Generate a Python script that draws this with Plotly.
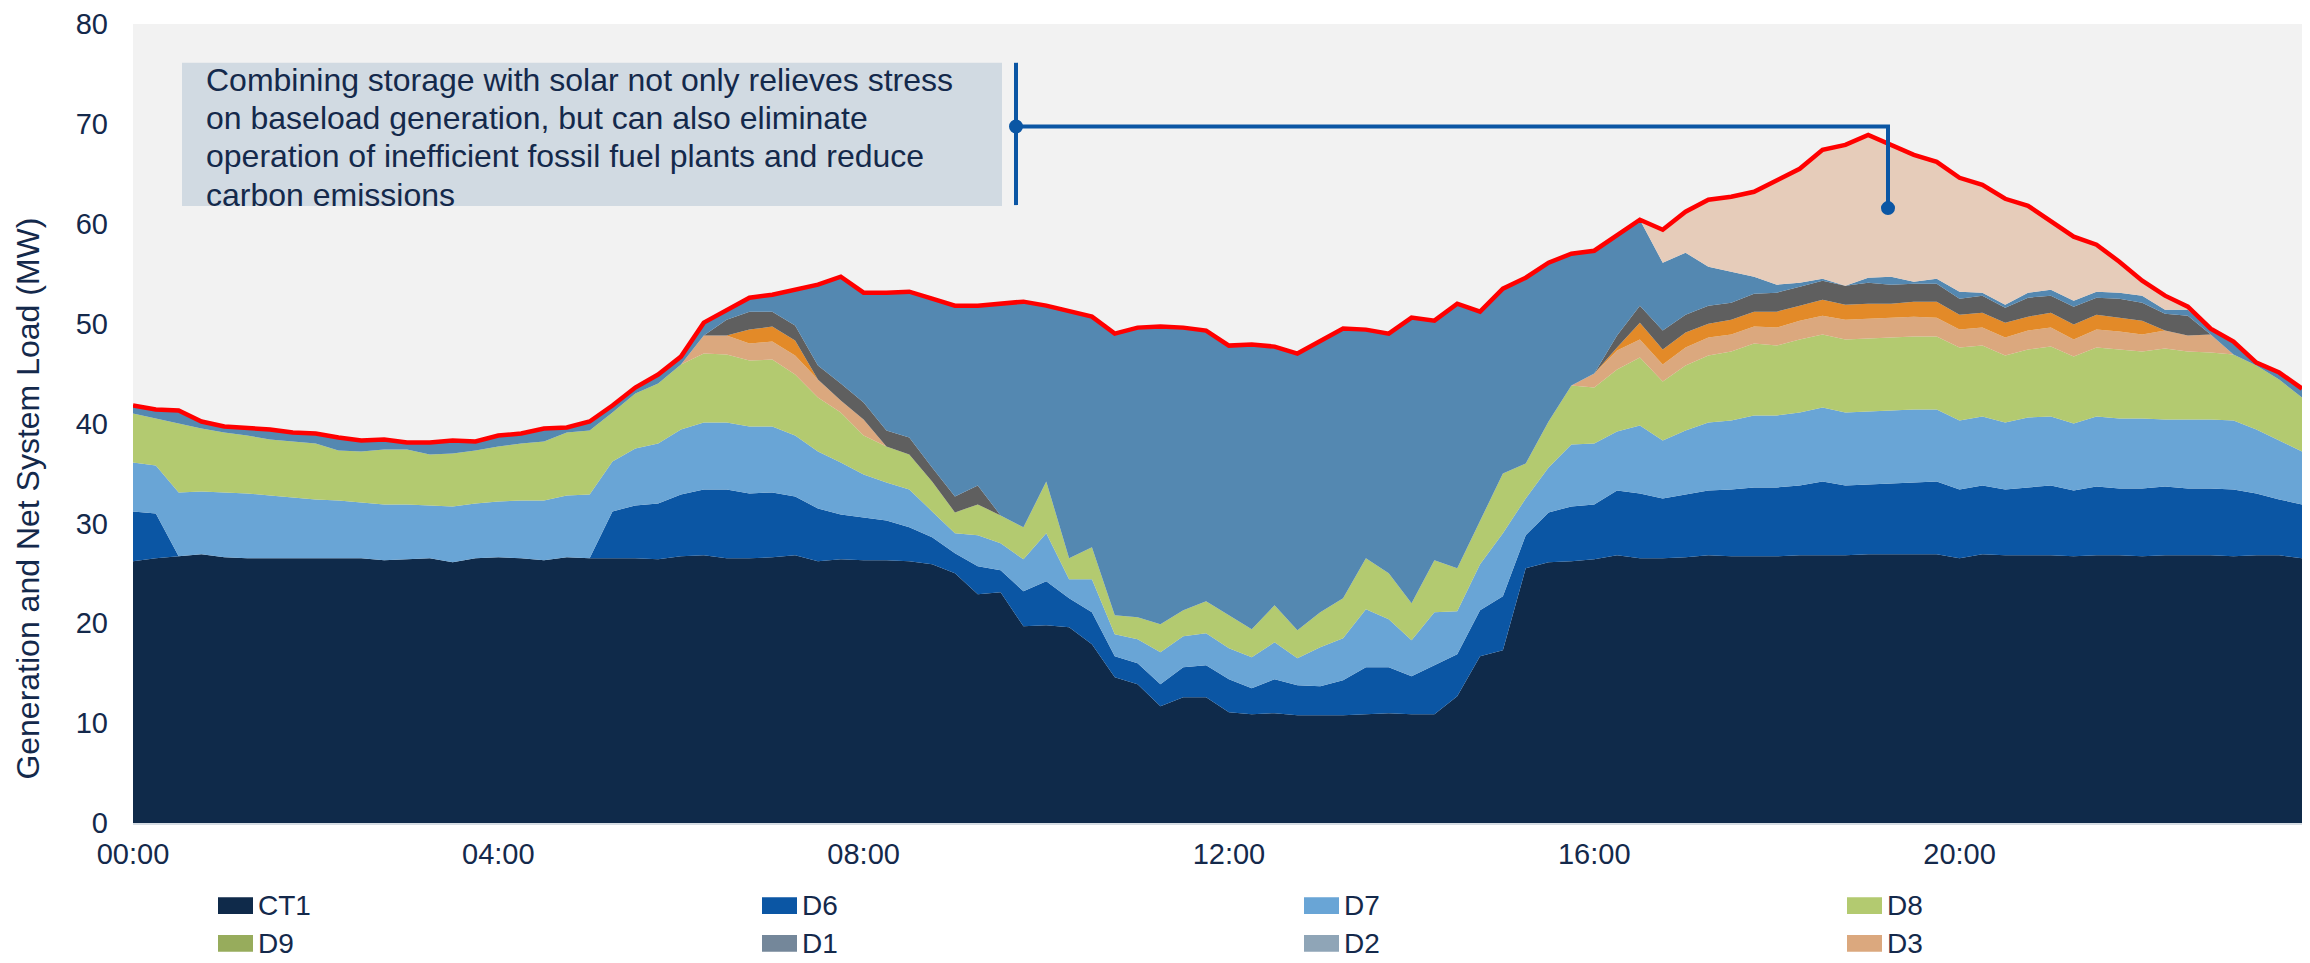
import pandas as pd
import plotly.graph_objects as go

# 15-minute intervals over one day
TIMES = pd.date_range("2024-01-01 00:00", periods=96, freq="15min")

# generation by unit (MW), stacked bottom -> top
CT1 = [26.2, 26.5, 26.7, 26.9, 26.6, 26.5, 26.5, 26.5, 26.5, 26.5, 26.5, 26.3, 26.4, 26.5, 26.1, 26.5,
       26.6, 26.5, 26.3, 26.6, 26.5, 26.5, 26.5, 26.4, 26.7, 26.8, 26.5, 26.5, 26.6, 26.8, 26.2, 26.4,
       26.3, 26.3, 26.2, 25.9, 25.0, 22.9, 23.1, 19.7, 19.8, 19.6, 17.9, 14.6, 13.9, 11.7, 12.6, 12.6,
       11.1, 10.9, 11.0, 10.8, 10.8, 10.8, 10.9, 11.0, 10.9, 10.9, 12.7, 16.7, 17.3, 25.5, 26.1, 26.2,
       26.4, 26.8, 26.5, 26.5, 26.6, 26.8, 26.7, 26.7, 26.7, 26.8, 26.8, 26.8, 26.9, 26.9, 26.9, 26.9,
       26.5, 26.9, 26.8, 26.8, 26.8, 26.7, 26.8, 26.8, 26.7, 26.8, 26.8, 26.8, 26.7, 26.8, 26.8, 26.5]

D6 = [5.0, 4.5, 0, 0, 0, 0, 0, 0, 0, 0, 0, 0, 0, 0, 0, 0,
      0, 0, 0, 0, 0, 4.7, 5.3, 5.6, 6.2, 6.6, 6.9, 6.5, 6.5, 5.9, 5.3, 4.5,
      4.3, 4.0, 3.4, 2.7, 2.0, 2.8, 2.2, 3.5, 4.4, 2.9, 3.2, 2.1, 2.1, 2.2, 3.0, 3.2,
      3.3, 2.6, 3.4, 3.0, 2.9, 3.5, 4.7, 4.6, 3.8, 4.9, 4.2, 4.6, 5.4, 3.3, 5.0, 5.5,
      5.5, 6.5, 6.5, 6.0, 6.3, 6.5, 6.7, 6.9, 6.9, 7.0, 7.4, 7.0, 7.0, 7.1, 7.2, 7.3,
      6.9, 6.9, 6.6, 6.8, 7.0, 6.6, 6.9, 6.7, 6.8, 6.9, 6.7, 6.7, 6.7, 6.2, 5.6, 5.4]

D7 = [4.9, 4.8, 6.4, 6.3, 6.5, 6.5, 6.3, 6.1, 5.9, 5.8, 5.6, 5.6, 5.5, 5.3, 5.6, 5.5,
      5.6, 5.8, 6.0, 6.2, 6.4, 5.0, 5.7, 6.0, 6.5, 6.7, 6.7, 6.7, 6.6, 6.1, 5.7, 5.2,
      4.3, 3.8, 3.8, 2.6, 2.0, 3.1, 2.7, 3.2, 4.8, 1.9, 3.3, 2.2, 2.4, 3.2, 3.1, 3.2,
      3.1, 3.1, 3.7, 2.7, 3.9, 4.2, 5.8, 4.8, 3.6, 5.3, 4.3, 4.6, 6.3, 3.7, 4.5, 6.2,
      6.1, 5.9, 6.8, 5.8, 6.4, 6.8, 6.9, 7.2, 7.2, 7.3, 7.4, 7.3, 7.3, 7.3, 7.3, 7.2,
      6.9, 6.9, 6.7, 7.0, 6.9, 6.7, 7.0, 7.0, 7.0, 6.7, 6.9, 6.9, 6.9, 6.4, 5.9, 5.3]

D8 = [4.9, 4.7, 6.9, 6.3, 6.0, 5.8, 5.6, 5.6, 5.6, 5.0, 5.1, 5.5, 5.5, 5.1, 5.3, 5.3,
      5.5, 5.7, 5.9, 6.3, 6.4, 4.9, 5.5, 6.0, 6.5, 6.9, 6.8, 6.6, 6.7, 6.1, 5.4, 5.0,
      3.9, 3.6, 3.5, 3.0, 2.1, 3.1, 2.8, 3.2, 5.2, 2.1, 3.2, 1.9, 2.2, 2.8, 2.6, 3.2,
      3.3, 2.8, 3.7, 2.8, 3.5, 4.0, 5.1, 4.6, 3.7, 5.2, 4.3, 4.3, 6.0, 3.5, 4.6, 5.9,
      5.6, 6.2, 6.8, 5.9, 6.5, 6.7, 6.9, 7.2, 7.0, 7.3, 7.3, 7.3, 7.3, 7.3, 7.3, 7.3,
      7.3, 7.1, 6.7, 6.8, 7.0, 6.7, 6.9, 6.9, 6.7, 7.1, 6.8, 6.7, 6.6, 6.4, 6.1, 5.4]

D3 = [0, 0, 0, 0, 0, 0, 0, 0, 0, 0, 0, 0, 0, 0, 0, 0,
      0, 0, 0, 0, 0, 0, 0, 0, 0, 1.8, 1.9, 1.7, 1.8, 1.9, 1.8, 1.2,
      1.6, 0, 0, 0, 0, 0, 0, 0, 0, 0, 0, 0, 0, 0, 0, 0,
      0, 0, 0, 0, 0, 0, 0, 0, 0, 0, 0, 0, 0, 0, 0, 0,
      1.4, 1.9, 1.8, 1.7, 1.8, 1.8, 1.7, 1.7, 1.8, 1.9, 1.9, 2.0, 2.0, 2.0, 2.0, 1.9,
      1.8, 1.8, 1.8, 1.9, 1.9, 1.7, 1.8, 1.8, 1.7, 1.8, 1.6, 1.8, 0, 0, 0, 0]

D4 = [0, 0, 0, 0, 0, 0, 0, 0, 0, 0, 0, 0, 0, 0, 0, 0,
      0, 0, 0, 0, 0, 0, 0, 0, 0, 0, 0, 1.4, 1.5, 1.5, 0, 0,
      0, 0, 0, 0, 0, 0, 0, 0, 0, 0, 0, 0, 0, 0, 0, 0,
      0, 0, 0, 0, 0, 0, 0, 0, 0, 0, 0, 0, 0, 0, 0, 0,
      0, 0.3, 1.7, 1.5, 1.5, 1.4, 1.5, 1.5, 1.6, 1.5, 1.6, 1.5, 1.5, 1.4, 1.5, 1.6,
      1.5, 1.5, 1.5, 1.4, 1.5, 1.5, 1.5, 1.4, 1.4, 0, 0, 0, 0, 0, 0, 0]

D5 = [0, 0, 0, 0, 0, 0, 0, 0, 0, 0, 0, 0, 0, 0, 0, 0,
      0, 0, 0, 0, 0, 0, 0, 0, 0, 0, 1.6, 1.8, 1.5, 1.5, 1.4, 1.7,
      1.7, 1.6, 1.7, 1.4, 1.6, 1.9, 0, 0, 0, 0, 0, 0, 0, 0, 0, 0,
      0, 0, 0, 0, 0, 0, 0, 0, 0, 0, 0, 0, 0, 0, 0, 0,
      0, 1.2, 1.7, 1.9, 1.8, 1.8, 1.7, 1.8, 1.9, 1.9, 1.9, 1.9, 2.1, 1.9, 1.8, 1.8,
      1.6, 1.7, 1.5, 1.9, 1.7, 1.8, 1.7, 1.9, 1.8, 1.7, 2.0, 0, 0, 0, 0, 0]

SOLAR = [0.8, 0.9, 1.3, 0.7, 0.6, 0.8, 1.0, 0.9, 1.0, 1.3, 1.1, 1.0, 0.7, 1.2, 1.3, 0.9,
         1.1, 1.0, 1.3, 0.5, 0.9, 0.7, 0.6, 0.9, 0.8, 1.3, 0.9, 1.4, 1.7, 3.6, 8.1, 10.7,
         11.0, 13.8, 14.6, 16.9, 19.1, 18.0, 21.2, 22.6, 17.6, 24.7, 23.1, 28.2, 29.0, 29.8, 28.3, 27.1,
         27.0, 28.5, 25.9, 27.7, 27.2, 27.0, 22.9, 24.0, 28.6, 24.0, 26.5, 21.0, 18.5, 18.6, 15.9, 13.2,
         12.3, 10.1, 8.6, 6.8, 6.2, 3.9, 3.1, 1.7, 0.8, 0.4, 0.2, 0.0, 0.5, 0.8, 0.2, 0.5,
         0.7, 0.3, 0.3, 0.5, 0.6, 0.6, 0.6, 0.6, 0.7, 0.4, 0.6, 0.6, 1.3, 0.3, 0.7, 0.9]

STORAGE = [0, 0, 0, 0, 0, 0, 0, 0, 0, 0, 0, 0, 0, 0, 0, 0,
           0, 0, 0, 0, 0, 0, 0, 0, 0, 0, 0, 0, 0, 0, 0, 0,
           0, 0, 0, 0, 0, 0, 0, 0, 0, 0, 0, 0, 0, 0, 0, 0,
           0, 0, 0, 0, 0, 0, 0, 0, 0, 0, 0, 0, 0, 0, 0, 0,
           0, 0, 0, 3.3, 4.1, 6.7, 7.5, 8.5, 10.5, 11.4, 12.9, 14.1, 14.3, 13.2, 12.7, 11.7,
           11.4, 10.8, 10.6, 8.7, 6.8, 6.4, 4.7, 3.1, 1.5, 1.4, 0.3, 0, 0, 0, 0, 0]

NET_LOAD = [41.8, 41.4, 41.3, 40.2, 39.7, 39.6, 39.4, 39.1, 39.0, 38.6, 38.3, 38.4, 38.1, 38.1, 38.3, 38.2,
            38.8, 39.0, 39.5, 39.6, 40.2, 41.8, 43.6, 44.9, 46.7, 50.1, 51.3, 52.6, 52.9, 53.4, 53.9, 54.7,
            53.1, 53.1, 53.2, 52.5, 51.8, 51.8, 52.0, 52.2, 51.8, 51.2, 50.7, 49.0, 49.6, 49.7, 49.6, 49.3,
            47.8, 47.9, 47.7, 47.0, 48.3, 49.5, 49.4, 49.0, 50.6, 50.3, 52.0, 51.2, 53.5, 54.6, 56.1, 57.0,
            57.3, 58.9, 60.4, 59.4, 61.2, 62.4, 62.7, 63.2, 64.4, 65.5, 67.4, 67.9, 68.9, 67.9, 66.9, 66.2,
            64.6, 63.9, 62.5, 61.8, 60.2, 58.7, 57.9, 56.2, 54.3, 52.8, 51.7, 49.5, 48.2, 46.1, 45.1, 43.5]

LEGEND_ITEMS = ["CT1", "D6", "D7", "D8", "D9", "D1", "D2", "D3"]
COLORS = {"CT1": "#0F2A4A", "D6": "#0B56A4", "D7": "#69A5D6", "D8": "#B3CA70",
          "D9": "#97AC5C", "D1": "#74879A", "D2": "#8FA5B7", "D3": "#DBA87E",
          "D4": "#E38A28", "D5": "#5F5F5F", "Solar": "#5488B1", "Storage": "#E6CCBA"}

CALLOUT = ["Combining storage with solar not only relieves stress",
           "on baseload generation, but can also eliminate",
           "operation of inefficient fossil fuel plants and reduce",
           "carbon emissions"]

NAVY = "#14294B"
FONT = "Arial, 'Liberation Sans', sans-serif"
BLUE = "#0B56A4"

W, H = 2310, 963
L, R, T, B = 133, 2302, 20, 823


def fx(p):
    return (p - L) / (R - L)


def fy(p):
    return (B - p) / (B - T)


fig = go.Figure()
stack = [("CT1", CT1), ("D6", D6), ("D7", D7), ("D8", D8), ("D3", D3),
         ("D4", D4), ("D5", D5), ("Solar", SOLAR), ("Storage", STORAGE)]
for name, vals in stack:
    fig.add_trace(go.Scatter(
        x=TIMES, y=vals, name=name, mode="lines", stackgroup="gen",
        line=dict(width=0, color=COLORS[name]), fillcolor=COLORS[name],
        showlegend=False,
    ))
fig.add_trace(go.Scatter(
    x=TIMES, y=NET_LOAD, name="Net System Load", mode="lines",
    line=dict(color="#FF0000", width=4.5), showlegend=False,
))

shapes = []
annotations = []

# callout box + connector
shapes.append(dict(type="rect", xref="paper", yref="paper", layer="above",
                   x0=fx(182), x1=fx(1002), y0=fy(203), y1=fy(59),
                   fillcolor="#D1DAE2", line=dict(width=0)))
for k, line in enumerate(CALLOUT):
    annotations.append(dict(xref="paper", yref="paper", x=fx(204), y=fy(76.5 + k * 38.3),
                            xanchor="left", yanchor="middle", showarrow=False, text=line,
                            font=dict(size=32, color=NAVY, family=FONT)))
shapes.append(dict(type="line", xref="paper", yref="paper", x0=fx(1016), x1=fx(1016),
                   y0=fy(59), y1=fy(202), line=dict(color=BLUE, width=4)))
shapes.append(dict(type="path", xref="paper", yref="paper",
                   path=f"M {fx(1016)},{fy(123)} H {fx(1888)} V {fy(205)}",
                   line=dict(color=BLUE, width=4)))
for cx, cy in [(1016, 123), (1888, 205)]:
    shapes.append(dict(type="circle", xref="paper", yref="paper",
                       x0=fx(cx - 7), x1=fx(cx + 7), y0=fy(cy + 7), y1=fy(cy - 7),
                       fillcolor=BLUE, line=dict(width=0)))

# legend, 4 columns x 2 rows
col_x = [218, 762, 1304, 1847]
row_y = [906, 944]
SW, SH = 35, 17
for k, name in enumerate(LEGEND_ITEMS):
    x0 = col_x[k % 4]
    yc = row_y[k // 4]
    shapes.append(dict(type="rect", xref="paper", yref="paper",
                       x0=fx(x0), x1=fx(x0 + SW), y0=fy(yc + SH / 2), y1=fy(yc - SH / 2),
                       fillcolor=COLORS[name], line=dict(width=0)))
    annotations.append(dict(xref="paper", yref="paper", x=fx(x0 + SW + 3), y=fy(yc),
                            xanchor="left", yanchor="middle", showarrow=False, text=name,
                            font=dict(size=28, color=NAVY, family=FONT)))

# y-axis title
annotations.append(dict(xref="paper", yref="paper", x=fx(28), y=fy(497), textangle=-90,
                        xanchor="center", yanchor="middle", showarrow=False,
                        text="Generation and Net System Load (MW)",
                        font=dict(size=32, color=NAVY, family=FONT)))

fig.update_layout(
    width=W, height=H,
    margin=dict(l=L, r=W - R, t=T, b=H - B),
    paper_bgcolor="white",
    plot_bgcolor="#F2F2F2",
    font=dict(family=FONT, color=NAVY),
    showlegend=False,
    shapes=shapes,
    annotations=annotations,
)
fig.update_xaxes(
    type="date", range=[str(TIMES[0]), str(TIMES[-1])],
    tickformat="%H:%M", dtick=4 * 3600 * 1000, tick0=str(TIMES[0]),
    showgrid=False, zeroline=False, ticks="",
    showline=True, linecolor="#D5DCE3", linewidth=1.5,
    tickfont=dict(size=29, color=NAVY, family=FONT), ticklabelstandoff=4,
)
fig.update_yaxes(
    range=[0, 80], dtick=10, showgrid=False, zeroline=False, ticks="",
    tickfont=dict(size=29, color=NAVY, family=FONT), ticklabelstandoff=24,
)

# drop the browser's default body margin so the figure sits at the page origin
fig.write_html("out.html", config={"displayModeBar": False},
               post_script="document.body.style.margin = '0';")
